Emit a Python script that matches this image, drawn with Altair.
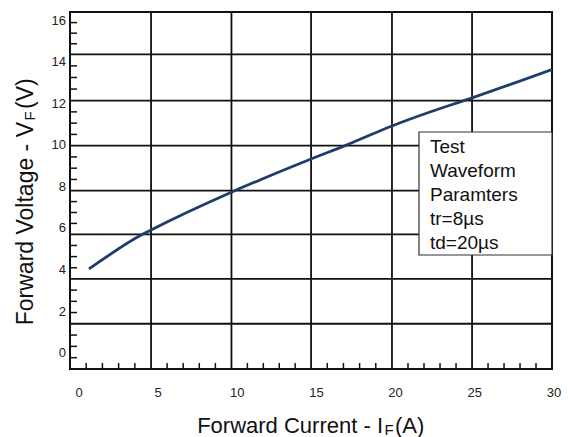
import altair as alt
import pandas as pd

# ---- data ----
current_a = [0.63, 4.04, 4.55, 9.66, 11.43, 14.66, 16.93, 19.77, 22.17, 24.83, 29.88]
voltage_v = [4.05, 5.73, 5.93, 7.76, 8.34, 9.35, 10.03, 10.94, 11.61, 12.29, 13.66]

x_labels = [0, 5, 10, 15, 20, 25, 30]
y_labels = [0, 2, 4, 6, 8, 10, 12, 14, 16]
x_grid = [4.55, 9.63, 14.66, 19.77, 24.83]
y_grid = [1.41, 3.57, 5.72, 7.82, 9.99, 12.16, 14.39]
x_domain = [-0.57, 29.88]
y_domain = [-0.77, 16.43]
note_lines = ["Test", "Waveform", "Paramters", "tr=8µs", "td=20µs"]

FONT = "Liberation Sans"
INK = "#111111"

xb = [x_domain[0]] + x_grid + [x_domain[1]]
x_minor = [a + (b - a) * k / 5 for a, b in zip(xb[:-1], xb[1:]) for k in range(1, 5)]
yb = [y_domain[0]] + y_grid + [y_domain[1]]
y_minor = [a + (b - a) * k / 4 for a, b in zip(yb[:-1], yb[1:]) for k in range(1, 4)]

curve = pd.DataFrame({"x": current_a, "y": voltage_v})
xl = pd.DataFrame({"v": x_labels, "t": [str(v) for v in x_labels]})
yl = pd.DataFrame({"v": y_labels, "t": [str(v) for v in y_labels]})
xg = pd.DataFrame({"v": x_grid})
yg = pd.DataFrame({"v": y_grid})
xm = pd.DataFrame({"v": x_minor})
ym = pd.DataFrame({"v": y_minor})
one = pd.DataFrame({"a": [0]})

xs = alt.Scale(domain=x_domain, nice=False, zero=False)
ys = alt.Scale(domain=y_domain, nice=False, zero=False)

vgrid = alt.Chart(xg).mark_rule(color=INK, strokeWidth=1.8).encode(
    x=alt.X("v:Q", scale=xs, axis=None))
hgrid = alt.Chart(yg).mark_rule(color=INK, strokeWidth=1.8).encode(
    y=alt.Y("v:Q", scale=ys, axis=None))
xticks = alt.Chart(xm).mark_rule(color=INK, strokeWidth=1.5).encode(
    x=alt.X("v:Q", scale=xs, axis=None), y=alt.value(357), y2=alt.value(351))
yticks = alt.Chart(ym).mark_rule(color=INK, strokeWidth=1.5).encode(
    y=alt.Y("v:Q", scale=ys, axis=None), x=alt.value(0), x2=alt.value(7))

line = alt.Chart(curve).mark_line(color="#1f3d6b", strokeWidth=2.8,
                                  interpolate="monotone", clip=True).encode(
    x=alt.X("x:Q", scale=xs, axis=None), y=alt.Y("y:Q", scale=ys, axis=None))

box = alt.Chart(one).mark_rect(fill="white", stroke="#333333", strokeWidth=1.2).encode(
    x=alt.value(349), x2=alt.value(482), y=alt.value(120), y2=alt.value(243))
note = alt.Chart(one).mark_text(text=note_lines, align="left", baseline="alphabetic",
                                font=FONT, fontSize=19, lineHeight=24.1,
                                color=INK).encode(x=alt.value(360), y=alt.value(140.7))

xlab = alt.Chart(xl).mark_text(font=FONT, fontSize=13, color="#222222",
                               baseline="middle", align="center").encode(
    x=alt.X("v:Q", scale=xs, axis=None), y=alt.value(381), text="t:N")
ylab = alt.Chart(yl).mark_text(font=FONT, fontSize=13, color="#222222",
                               baseline="middle", align="right").encode(
    y=alt.Y("v:Q", scale=ys, axis=None), x=alt.value(-4), text="t:N")

xt1 = alt.Chart(one).mark_text(text="Forward Current - I", font=FONT, fontSize=22,
                               align="right", baseline="alphabetic", color=INK).encode(
    x=alt.value(313), y=alt.value(421))
xt2 = alt.Chart(one).mark_text(text="F", font=FONT, fontSize=15,
                               align="left", baseline="alphabetic", color=INK).encode(
    x=alt.value(314.5), y=alt.value(422.5))
xt3 = alt.Chart(one).mark_text(text="(A)", font=FONT, fontSize=22,
                               align="left", baseline="alphabetic", color=INK).encode(
    x=alt.value(325), y=alt.value(421))

yt1 = alt.Chart(one).mark_text(text="Forward Voltage - V", font=FONT, fontSize=23, angle=270,
                               align="right", baseline="alphabetic", color=INK).encode(
    x=alt.value(-37), y=alt.value(110))
yt2 = alt.Chart(one).mark_text(text="F", font=FONT, fontSize=15, angle=270,
                               align="left", baseline="alphabetic", color=INK).encode(
    x=alt.value(-35), y=alt.value(108.5))
yt3 = alt.Chart(one).mark_text(text="(V)", font=FONT, fontSize=23, angle=270,
                               align="left", baseline="alphabetic", color=INK).encode(
    x=alt.value(-37), y=alt.value(97))

chart = alt.layer(vgrid, hgrid, xticks, yticks, line, box, note, xlab, ylab,
                  xt1, xt2, xt3, yt1, yt2, yt3).properties(
    width=482, height=357, autosize="none",
    padding={"left": 62, "top": 4, "right": 10, "bottom": 68},
    background="white",
).configure_view(stroke=INK, strokeWidth=2)

chart.save("out.html", embed_options={"renderer": "svg", "actions": False})
